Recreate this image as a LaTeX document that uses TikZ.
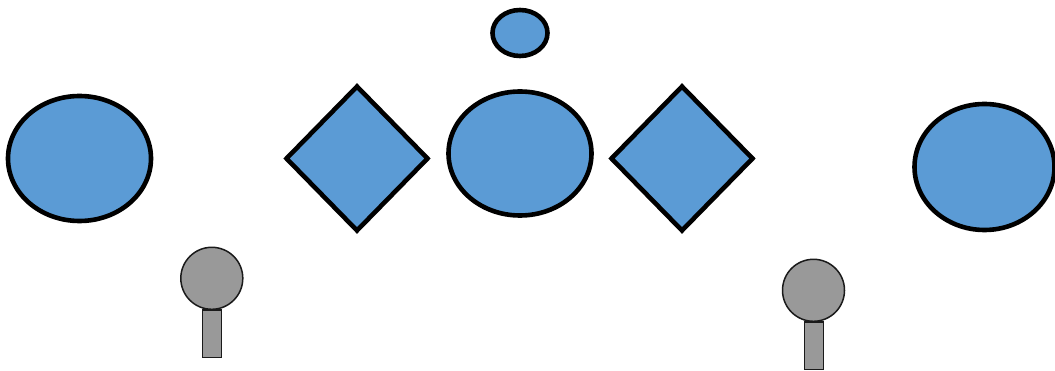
\documentclass[tikz,border=0pt]{standalone}
\usetikzlibrary{shapes.geometric}
\definecolor{shapeblue}{HTML}{5B9BD5}
\definecolor{micgrey}{HTML}{999999}
\definecolor{micline}{HTML}{1A1A1A}
\begin{document}
\begin{tikzpicture}[x=1pt,y=-1pt,
  blueshape/.style={draw=black,line width=4.6pt,fill=shapeblue,inner sep=0pt,outer sep=0pt},
  oval/.style={blueshape,ellipse},
  rhomb/.style={blueshape,diamond,minimum width=141pt,minimum height=144pt},
  michead/.style={circle,draw=micline,line width=1.5pt,fill=micgrey,inner sep=0pt,minimum size=62pt},
  micstem/.style={rectangle,draw=micline,line width=1.5pt,fill=micgrey,inner sep=0pt,minimum width=19pt,minimum height=47pt}]
\useasboundingbox (0,0) rectangle (1055,371);
\node[oval,minimum width=143pt,minimum height=125pt] (leftoval) at (79.5,158.5) {};
\node[oval,minimum width=140pt,minimum height=126pt] (rightoval) at (984.5,167) {};
\node[oval,minimum width=143pt,minimum height=124pt] (centeroval) at (520,153.5) {};
\node[oval,minimum width=55pt,minimum height=46pt] (topoval) at (520,33) {};
\node[rhomb] (leftdiamond) at (357,158.5) {};
\node[rhomb] (rightdiamond) at (682,158.5) {};
\node[micstem,anchor=north] (leftstem) at (212,309.5) {};
\node[michead] (lefthead) at (211.8,278.3) {};
\node[micstem,anchor=north] (rightstem) at (814,321.5) {};
\node[michead] (righthead) at (813.5,290.3) {};
\end{tikzpicture}
\end{document}
